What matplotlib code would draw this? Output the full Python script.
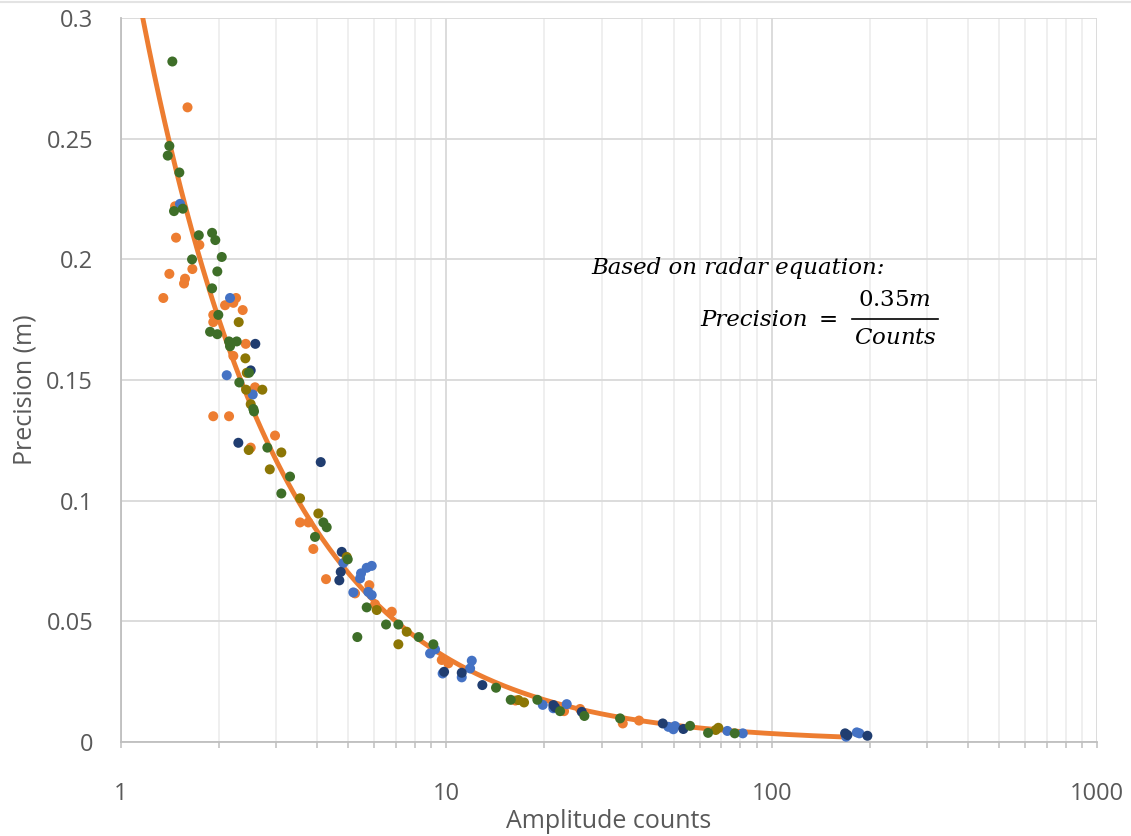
import numpy as np
import matplotlib.pyplot as plt
from matplotlib.lines import Line2D
from matplotlib.ticker import FixedLocator, LogLocator, NullFormatter

plt.rcParams['font.family'] = ['Open Sans', 'DejaVu Sans']
plt.rcParams['mathtext.fontset'] = 'dejavuserif'

# Datos (amplitud en cuentas, precision en m)
orange_x = [1.601, 1.466, 1.476, 1.741, 1.408, 1.657, 1.573, 1.562, 1.349, 2.257,
            2.214, 2.088, 2.366, 1.921, 1.921, 2.417, 2.214, 2.581, 1.921, 2.148,
            2.974, 2.504, 3.55, 3.765, 3.90, 4.267, 5.797, 5.24, 6.035, 6.794,
            9.68, 10.14, 16.3, 23.0, 25.76, 34.85, 39.1]
orange_y = [0.263, 0.222, 0.209, 0.206, 0.194, 0.196, 0.192, 0.190, 0.184, 0.184,
            0.182, 0.181, 0.179, 0.177, 0.174, 0.165, 0.160, 0.147, 0.135, 0.135,
            0.127, 0.122, 0.091, 0.091, 0.080, 0.0675, 0.065, 0.0616, 0.0571, 0.054,
            0.034, 0.0326, 0.0172, 0.0128, 0.0137, 0.0077, 0.0089]

green_x = [1.438, 1.408, 1.392, 1.511, 1.455, 1.548, 1.734, 1.905, 1.949, 2.040,
           1.653, 1.977, 1.905, 1.991, 1.878, 1.977, 2.148, 2.268, 2.163, 2.474,
           2.31, 2.551, 2.563, 2.817, 3.307, 3.11, 4.186, 4.287, 3.947, 4.976,
           5.69, 6.526, 7.119, 5.325, 8.225, 9.12, 14.21, 15.77, 19.04, 22.36,
           26.56, 34.19, 56.1, 63.74, 76.97]
green_y = [0.282, 0.247, 0.243, 0.236, 0.220, 0.221, 0.210, 0.211, 0.208, 0.201,
           0.200, 0.195, 0.188, 0.177, 0.170, 0.169, 0.166, 0.166, 0.164, 0.153,
           0.149, 0.138, 0.137, 0.122, 0.110, 0.103, 0.091, 0.089, 0.085, 0.0757,
           0.0558, 0.0487, 0.0487, 0.0435, 0.0435, 0.0405, 0.0225, 0.0175, 0.0175, 0.0128,
           0.0108, 0.0098, 0.0067, 0.0038, 0.0036]

olive_x = [2.30, 2.411, 2.435, 2.423, 2.719, 2.504, 2.469, 3.11, 2.866, 3.55,
           4.041, 4.941, 6.109, 7.553, 7.119, 16.65, 17.33, 67.3, 68.55]
olive_y = [0.174, 0.159, 0.153, 0.146, 0.146, 0.140, 0.121, 0.120, 0.113, 0.101,
           0.0947, 0.0767, 0.0547, 0.0457, 0.0405, 0.0174, 0.0164, 0.005, 0.0059]

blue_x = [1.518, 2.163, 2.113, 2.54, 4.824, 5.467, 5.69, 5.896, 5.428, 5.176,
          5.756, 5.896, 9.23, 8.91, 11.97, 9.74, 11.15, 11.83, 19.78, 21.32,
          23.44, 48.12, 50.45, 49.85, 73.04, 81.47, 169.3, 182.6, 186.0]
blue_y = [0.223, 0.184, 0.152, 0.144, 0.0742, 0.0699, 0.0722, 0.073, 0.0678, 0.062,
          0.0622, 0.0609, 0.0384, 0.0367, 0.0337, 0.0284, 0.0268, 0.0305, 0.0154, 0.014,
          0.0157, 0.0063, 0.0066, 0.0053, 0.0046, 0.0036, 0.0022, 0.004, 0.0036]

navy_x = [2.587, 2.504, 2.294, 4.11, 4.769, 4.735, 4.688, 9.84, 11.15, 12.9,
          21.32, 21.58, 26.07, 46.24, 53.5, 168.1, 170.9, 196.8]
navy_y = [0.165, 0.154, 0.124, 0.116, 0.0788, 0.0705, 0.067, 0.0291, 0.0287, 0.0236,
          0.0153, 0.0144, 0.0125, 0.0077, 0.0054, 0.0036, 0.0029, 0.0026]

# Ecuacion del radar: Precision = 0.35 m / Counts
coef = 0.35
curve_min, curve_max = 1.1, 170

x_ticks = [1, 10, 100, 1000]
x_labels = ['1', '10', '100', '1000']
y_ticks = [0, 0.05, 0.1, 0.15, 0.2, 0.25, 0.3]
y_labels = ['0', '0.05', '0.1', '0.15', '0.2', '0.25', '0.3']

W, H = 1131, 836
fig = plt.figure(figsize=(W / 100, H / 100), dpi=100)
fig.add_artist(Line2D([0, 1], [0.998, 0.998], color='#E3E3E3', lw=1.5))
ax = fig.add_axes([0.107, 0.1124, 0.863, 0.866])

ax.set_xscale('log')
ax.set_xlim(1, 1000)
ax.set_ylim(0, 0.3)

ax.xaxis.set_major_locator(FixedLocator(x_ticks))
ax.xaxis.set_minor_locator(LogLocator(base=10, subs=np.arange(2, 10)))
ax.xaxis.set_minor_formatter(NullFormatter())
ax.set_xticklabels(x_labels)
ax.set_yticks(y_ticks)
ax.set_yticklabels(y_labels)

ax.set_axisbelow(True)
ax.grid(which='major', color='#D9D9D9', lw=1.3)
ax.grid(which='minor', axis='x', color='#EBEBEB', lw=1.1)

for s in ['top', 'right']:
    ax.spines[s].set_visible(False)
for s in ['left', 'bottom']:
    ax.spines[s].set_color('#BFBFBF')
    ax.spines[s].set_linewidth(1.3)

ax.tick_params(axis='x', which='both', length=4, color='#BFBFBF', width=1.1,
               direction='out', pad=25, labelsize=17, labelcolor='#595959')
ax.tick_params(axis='y', which='both', length=0, pad=20, labelsize=17,
               labelcolor='#595959')

xc = np.logspace(np.log10(curve_min), np.log10(curve_max), 400)
ax.plot(xc, coef / xc, color='#ED7D31', lw=3.5, zorder=2, solid_capstyle='butt')

ms = 52
ax.scatter(orange_x, orange_y, s=ms, color='#ED7D31', edgecolors='none', zorder=3)
ax.scatter(blue_x, blue_y, s=ms, color='#4472C4', edgecolors='none', zorder=3)
ax.scatter(navy_x, navy_y, s=ms, color='#203D70', edgecolors='none', zorder=3)
ax.scatter(olive_x, olive_y, s=ms, color='#8C7605', edgecolors='none', zorder=3)
ax.scatter(green_x, green_y, s=ms, color='#3E6E28', edgecolors='none', zorder=3)

ax.set_xlabel('Amplitude counts', fontsize=18, color='#595959')
ax.set_ylabel('Precision (m)', fontsize=18, color='#595959')
ax.xaxis.set_label_coords(0.5, -0.092)
ax.yaxis.set_label_coords(-0.086, 0.486)

# Anotacion con la ecuacion (posiciones en pixeles de la figura)
def px(x, y):
    return x / W, 1 - y / H

fs = 16.5
fig.text(*px(591, 268), 'Based on radar equation:', family='DejaVu Serif',
         style='italic', fontsize=fs, ha='left', va='center')
fig.text(*px(808, 320), 'Precision', family='DejaVu Serif', style='italic',
         fontsize=fs, ha='right', va='center')
fig.text(*px(828, 320), '=', family='DejaVu Serif', fontsize=fs,
         ha='center', va='center')
fig.text(*px(895, 300), r'$0.35m$', fontsize=fs, ha='center', va='center')
fig.text(*px(895, 338), r'$\mathit{Counts}$', fontsize=fs, ha='center', va='center')
x0, y0 = px(852, 319)
x1, _ = px(938, 319)
fig.add_artist(Line2D([x0, x1], [y0, y0], color='black', lw=1.2))

plt.savefig('out.png', dpi=100)
